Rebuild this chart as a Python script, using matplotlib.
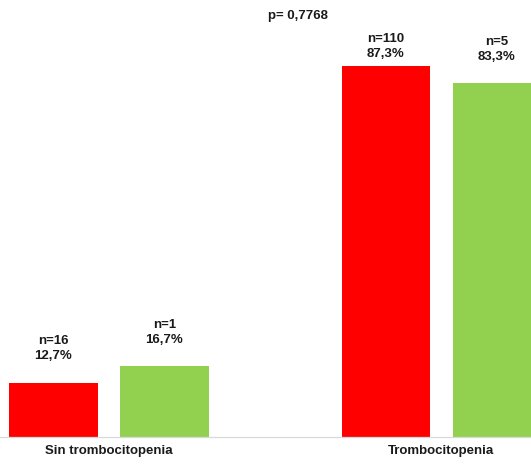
import matplotlib
matplotlib.use("Agg")
import matplotlib.pyplot as plt
import numpy as np

plt.rcParams['font.family'] = ['Liberation Sans', 'DejaVu Sans']

# Data
categories = ["Sin trombocitopenia", "Trombocitopenia"]
series_red_pct = [12.7, 87.3]
series_green_pct = [16.7, 83.3]
series_red_n = [16, 110]
series_green_n = [1, 5]
p_value_text = "p= 0,7768"

# Label offsets above bars (pixels)
red_label_offsets = [21, 6]
green_label_offsets = [20, 20]

RED = "#FF0000"
GREEN = "#92D050"
TEXT = "#1a1a1a"

W, H, DPI = 531, 466, 100
fig = plt.figure(figsize=(W / DPI, H / DPI), dpi=DPI)
ax = fig.add_axes([0, 29 / H, 1, 425 / H])

x = np.arange(len(categories))
spacing_px = 332.0
bw = 88 / spacing_px
off = 55.5 / spacing_px

bars_r = ax.bar(x - off, series_red_pct, width=bw, color=RED, linewidth=0)
bars_g = ax.bar(x + off, series_green_pct, width=bw, color=GREEN, linewidth=0)

ax.set_ylim(0, 100)
ax.set_xlim(-109 / spacing_px, (W - 109) / spacing_px)


def fmt(v):
    return f"{v:.1f}".replace(".", ",") + "%"


for bars, vals, ns, offs in [(bars_r, series_red_pct, series_red_n, red_label_offsets),
                             (bars_g, series_green_pct, series_green_n, green_label_offsets)]:
    for b, v, n, o in zip(bars, vals, ns, offs):
        ax.annotate(f"n={n}\n{fmt(v)}", xy=(b.get_x() + b.get_width() / 2, v),
                    xytext=(0, o), textcoords="offset pixels",
                    ha="center", va="bottom", fontsize=9.5, fontweight="bold",
                    color=TEXT, linespacing=1.3, annotation_clip=False)

ax.set_xticks(x)
ax.set_xticklabels(categories, fontsize=9.5, fontweight="bold", color=TEXT)
ax.tick_params(axis="x", length=0, pad=6)
ax.set_yticks([])
for s in ["top", "left", "right"]:
    ax.spines[s].set_visible(False)
ax.spines["bottom"].set_color("#d9d9d9")
ax.spines["bottom"].set_linewidth(0.9)

fig.text(268 / W, 1 - 16 / H, p_value_text, ha="left", va="center",
         fontsize=9.5, fontweight="bold", color=TEXT)

fig.savefig("out.png", dpi=DPI)
